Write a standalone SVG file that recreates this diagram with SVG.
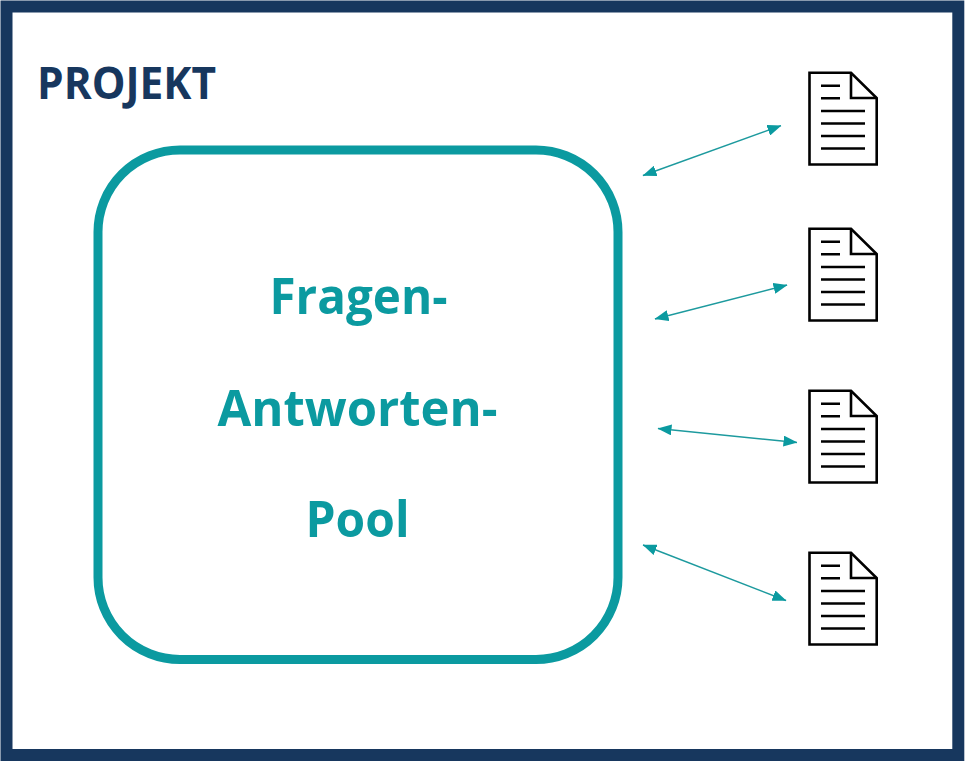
<svg xmlns="http://www.w3.org/2000/svg" xmlns:xlink="http://www.w3.org/1999/xlink" width="966" height="761" viewBox="0 0 966 761">
<style>
.t{font-family:"Open Sans","Liberation Sans",sans-serif;font-weight:700;fill:#0b9aa0;font-size:51px;text-anchor:middle}
.d{fill:#fff;stroke:#000;stroke-width:2.6;stroke-linejoin:miter}
.l{stroke:#000;stroke-width:2.6;fill:none}
.c{stroke:#1d9a9e;stroke-width:1.4;fill:none;marker-start:url(#a);marker-end:url(#a)}
</style>
<defs>
<marker id="a" viewBox="0 0 14 11" refX="13.500" refY="5.500" markerWidth="14" markerHeight="11" markerUnits="userSpaceOnUse" orient="auto-start-reverse"><path d="M0 0L14 5.500L0 11Z" fill="#0b9aa0"/></marker>
<g id="doc">
<path class="d" d="M809.5 72.7H851L876.7 98V164.5H809.5Z"/>
<path class="l" d="M851 72.7V98H876.7M821 85.7H840M821 98.3H840M821 111H865M821 123.5H865M821 136H865M821 148.5H865"/>
</g>
</defs>
<rect width="966" height="761" fill="#fff"/>
<g id="frame"><rect x="6.500" y="6.500" width="951.800" height="748.500" fill="none" stroke="#17375e" stroke-width="12"/></g>
<g id="title"><text x="37" y="99" font-family="'Open Sans','Liberation Sans',sans-serif" font-weight="700" font-size="45" fill="#17375e" textLength="179" lengthAdjust="spacingAndGlyphs">PROJEKT</text></g>
<g id="pool">
<rect x="98" y="150" width="520" height="509.500" rx="82" ry="82" fill="#fff" stroke="#0b9aa0" stroke-width="9"/>
<text class="t" x="358.500" y="314" textLength="178" lengthAdjust="spacingAndGlyphs">Fragen-</text>
<text class="t" x="357.500" y="425.500" textLength="280" lengthAdjust="spacingAndGlyphs">Antworten-</text>
<text class="t" x="357.500" y="537" textLength="104" lengthAdjust="spacingAndGlyphs">Pool</text>
</g>
<g id="doc1"><use href="#doc" xlink:href="#doc"/></g>
<g id="doc2"><use href="#doc" xlink:href="#doc" y="156"/></g>
<g id="doc3"><use href="#doc" xlink:href="#doc" y="318"/></g>
<g id="doc4"><use href="#doc" xlink:href="#doc" y="480"/></g>
<g id="connectors">
<line class="c" x1="643" y1="175.500" x2="781" y2="125.700"/>
<line class="c" x1="655" y1="319" x2="787" y2="285"/>
<line class="c" x1="658" y1="428.500" x2="797" y2="442.500"/>
<line class="c" x1="643" y1="545" x2="786" y2="600.500"/>
</g>
</svg>
